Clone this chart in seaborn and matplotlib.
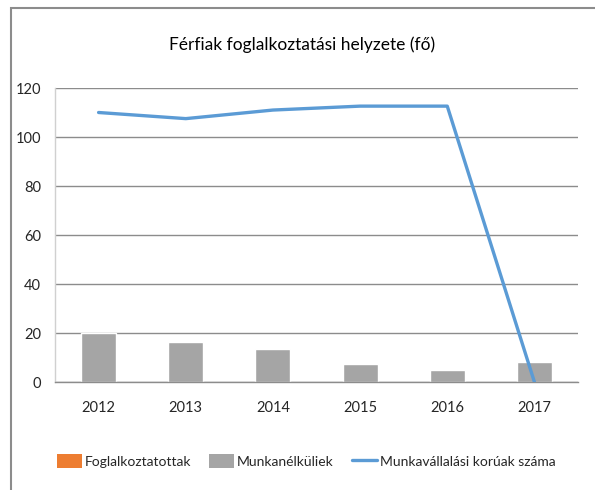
import numpy as np
import pandas as pd
import matplotlib
matplotlib.use("Agg")
import matplotlib.pyplot as plt
from matplotlib.patches import Patch, Rectangle
from matplotlib.lines import Line2D
import seaborn as sns

years = ["2012", "2013", "2014", "2015", "2016", "2017"]
foglalkoztatottak = [np.nan, np.nan, np.nan, np.nan, np.nan, np.nan]
munkanelkuliek = [20, 16.3, 13.6, 7.3, 5, 8.2]
munkavallalasi_koruak = [110, 107.5, 111, 112.6, 112.6, 0]

title = "Férfiak foglalkoztatási helyzete (fő)"
legend_labels = ["Foglalkoztatottak", "Munkanélküliek", "Munkavállalási korúak száma"]
yticks = [0, 20, 40, 60, 80, 100, 120]

sns.set_theme(style="white")
plt.rcParams["font.family"] = ["Lato", "DejaVu Sans"]

c_orange = "#ED7D31"
c_gray = "#A5A5A5"
c_blue = "#5B9BD5"
c_text = "#262626"

df = pd.DataFrame({"ev": years, "munkanelkuliek": munkanelkuliek,
                   "koruak": munkavallalasi_koruak})

W, H = 595, 490
fig = plt.figure(figsize=(W / 100, H / 100), dpi=100)
ax = fig.add_axes([55 / W, 1 - 382 / H, (578 - 55) / W, (382 - 88) / H])

# outer chart frame
fig.patches.append(Rectangle((11 / W, -0.05), 1.1, 1 - 8 / H + 0.05,
                             transform=fig.transFigure, fill=False,
                             edgecolor="#8c8c8c", linewidth=1.5, zorder=0))

sns.barplot(data=df, x="ev", y="munkanelkuliek", color=c_gray, width=0.4,
            saturation=1, ax=ax, zorder=2)
sns.pointplot(data=df, x="ev", y="koruak", color=c_blue, marker="",
              linewidth=2.4, ax=ax, zorder=3)

ax.set_xlim(-0.5, 5.5)
ax.set_ylim(0, 120)
ax.set_yticks(yticks)
ax.set_xlabel("")
ax.set_ylabel("")
ax.yaxis.grid(True, color="#8c8c8c", linewidth=1.0, zorder=0)
ax.set_axisbelow(True)
for s in ["top", "right"]:
    ax.spines[s].set_visible(False)
ax.spines["left"].set_color("#d0d0d0")
ax.spines["bottom"].set_color("#8c8c8c")
ax.spines["left"].set_linewidth(1.0)
ax.spines["bottom"].set_linewidth(1.0)
ax.tick_params(axis="both", length=0, labelsize=10.5, colors=c_text)
ax.tick_params(axis="x", pad=14)
ax.tick_params(axis="y", pad=10)
ax.set_xticks(np.arange(-0.5, 6, 1), minor=True)
ax.tick_params(axis="x", which="minor", length=5, color="#d0d0d0", direction="out")

fig.text(302 / W, 1 - 45 / H, title, ha="center", va="center",
         fontsize=12.5, color="black")

handles = [Patch(facecolor=c_orange, edgecolor="none"),
           Patch(facecolor=c_gray, edgecolor="none"),
           Line2D([], [], color=c_blue, linewidth=2.4)]
fig.legend(handles, legend_labels, loc="center", bbox_to_anchor=(306 / W, 1 - 461 / H),
           ncol=3, frameon=False, fontsize=10, handlelength=1.8, handleheight=1.25,
           handletextpad=0.2, columnspacing=1.3, labelcolor=c_text)

fig.savefig("out.png", dpi=100)
